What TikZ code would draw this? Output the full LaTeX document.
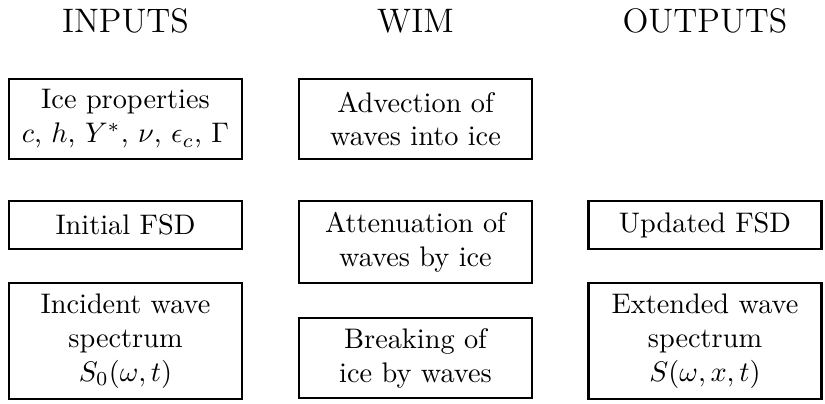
\documentclass[tikz,border=0pt]{standalone}
\begin{document}
\begin{tikzpicture}[x=0.3534pt,y=-0.3534pt,
  box/.style={draw,line width=0.8pt,align=center,inner sep=0pt,minimum width=233*0.3534pt},
  title/.style={font=\large,anchor=base}]
\useasboundingbox (0,0) rectangle (825,403);
% titles
\node[title] (tin) at (125.5,32) {INPUTS};
\node[title] (twim) at (415.5,32) {WIM};
\node[title] (tout) at (705,32) {OUTPUTS};
% inputs
\node[box,minimum height=80*0.3534pt] (ice) at (125.5,119) {Ice properties\\ $c$, $h$, $Y^*$, $\nu$, $\epsilon_c$, $\Gamma$};
\node[box,minimum height=48*0.3534pt] (fsd0) at (125.5,225) {Initial FSD};
\node[box,minimum height=116*0.3534pt] (inc) at (125.5,341) {Incident wave\\ spectrum\\ $S_0(\omega,t)$};
% WIM
\node[box,minimum height=80*0.3534pt] (adv) at (415.5,119) {Advection of\\ waves into ice};
\node[box,minimum height=82*0.3534pt] (att) at (415.5,242) {Attenuation of\\ waves by ice};
\node[box,minimum height=80*0.3534pt] (brk) at (415.5,358) {Breaking of\\ ice by waves};
% outputs
\node[box,minimum height=48*0.3534pt] (fsd1) at (705,225) {Updated FSD};
\node[box,minimum height=116*0.3534pt] (ext) at (705,341) {Extended wave\\ spectrum\\ $S(\omega,x,t)$};
\end{tikzpicture}
\end{document}
